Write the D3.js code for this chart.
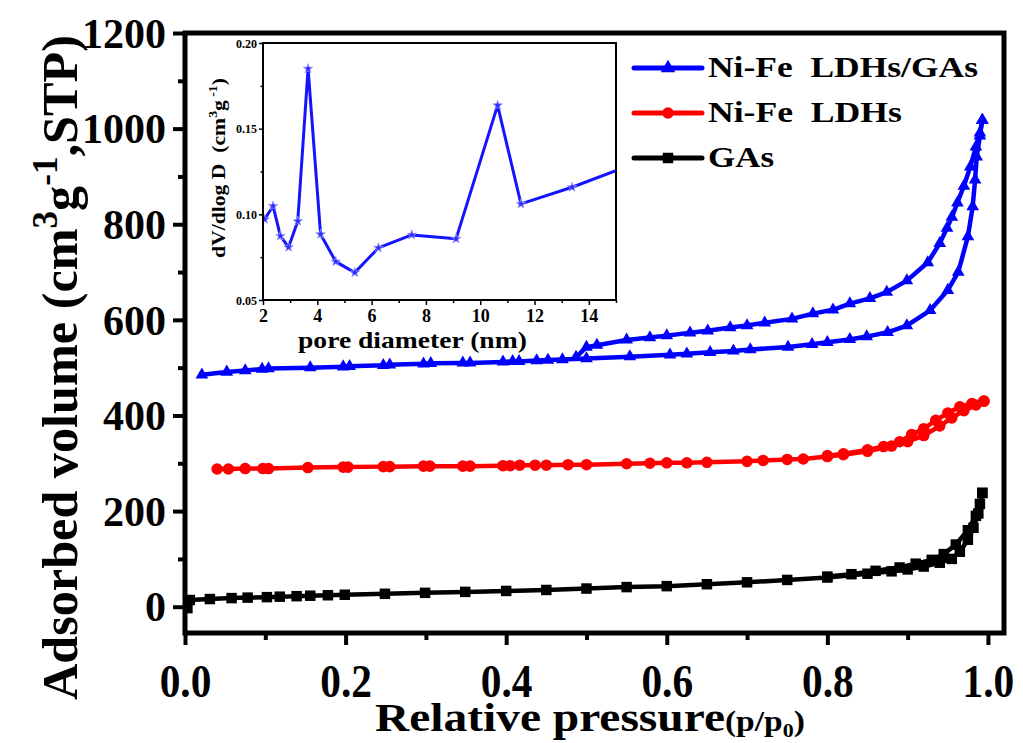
<!DOCTYPE html>
<html>
<head>
<meta charset="utf-8">
<script src="https://cdnjs.cloudflare.com/ajax/libs/d3/7.8.5/d3.min.js"></script>
<style>
  body { margin: 0; background: #fff; }
  svg text { font-family: "Liberation Serif", "Times New Roman", serif; font-weight: bold; fill: #000; white-space: pre; }
</style>
</head>
<body>
<div id="chart"></div>
<script>
// N2 isotherms, [p/p0, volume]
var ldhGasAds = [[0.021,485],[0.052,491],[0.075,494],[0.096,497],[0.104,498],[0.156,500],[0.197,502],[0.205,503],
  [0.247,505],[0.255,506],[0.297,508],[0.306,509],[0.346,510],[0.355,510],[0.396,512],[0.408,513],[0.416,513],
  [0.438,515],[0.452,516],[0.470,517],[0.500,519],[0.554,523],[0.604,527],[0.625,529],[0.654,532],[0.683,535],
  [0.704,538],[0.751,543],[0.781,549],[0.800,553],[0.828,559],[0.849,565],[0.875,574],[0.899,588],[0.928,620],
  [0.950,662],[0.963,700],[0.975,774],[0.981,837],[0.984,893],[0.986,941],[0.990,985],[0.993,1018]];
var ldhGasDes = [[0.993,1018],[0.990,991],[0.985,962],[0.978,920],[0.970,880],[0.962,845],[0.955,815],[0.949,792],
  [0.940,760],[0.925,720],[0.899,682],[0.874,658],[0.853,645],[0.828,634],[0.807,621],[0.782,613],[0.756,602],
  [0.722,594],[0.700,588],[0.679,584],[0.651,577],[0.629,573],[0.600,567],[0.579,563],[0.550,558],[0.513,547],
  [0.500,543],[0.487,522]];

var ldhAds = [[0.040,288],[0.054,288],[0.075,289],[0.097,289],[0.104,289],[0.153,291],[0.197,292],[0.203,292],
  [0.247,293],[0.255,293],[0.297,294],[0.305,294],[0.346,294],[0.355,294],[0.396,295],[0.405,295],[0.417,296],
  [0.436,296],[0.450,296],[0.477,297],[0.500,297],[0.550,299],[0.579,300],[0.600,301],[0.625,301],[0.650,302],
  [0.700,304],[0.720,306],[0.750,308],[0.770,309],[0.800,314],[0.820,318],[0.850,325],[0.880,336],[0.900,345],
  [0.920,358],[0.940,378],[0.955,395],[0.970,410],[0.985,422],[0.995,430]];
var ldhDes = [[0.995,430],[0.980,425],[0.965,418],[0.950,405],[0.935,390],[0.920,372],[0.905,360],[0.890,345],
  [0.870,335],[0.850,328],[0.820,320],[0.800,316]];

var gasAds = [[0.003,-3],[0.006,14],[0.031,16],[0.058,18],[0.078,19],[0.102,20],[0.118,21],[0.139,22],[0.156,23],
  [0.178,24],[0.199,25],[0.249,27],[0.299,29],[0.349,31],[0.400,33],[0.450,35],[0.500,38],[0.550,41],[0.600,43],
  [0.650,47],[0.700,51],[0.750,56],[0.800,61],[0.850,69],[0.880,74],[0.900,78],[0.920,84],[0.940,92],[0.955,100],
  [0.965,115],[0.975,140],[0.982,165],[0.988,195],[0.993,238]];
var gasDes = [[0.993,238],[0.990,215],[0.985,190],[0.975,160],[0.960,130],[0.945,110],[0.930,98],[0.910,90],
  [0.890,82],[0.860,75],[0.830,68],[0.800,63]];

// pore size distribution (inset)
var poreDiameter = [2.06,2.37,2.64,2.94,3.28,3.66,4.12,4.68,5.38,6.25,7.48,9.11,10.64,11.5,13.38,16.4];
var poreVolume = [0.0971,0.1049,0.0874,0.0808,0.0960,0.1850,0.0884,0.0724,0.0660,0.0804,0.0880,0.0857,0.1636,0.1061,0.1158,0.134];

var xTicks = [0, 0.2, 0.4, 0.6, 0.8, 1.0];
var xMinor = [0.1, 0.3, 0.5, 0.7, 0.9];
var yTicks = [0, 200, 400, 600, 800, 1000, 1200];
var yMinor = [100, 300, 500, 700, 900, 1100];
var insetXTicks = [2, 4, 6, 8, 10, 12, 14];
var insetXMinor = [3, 5, 7, 9, 11, 13, 15];
var insetYTicks = [0.05, 0.10, 0.15, 0.20];
var insetYMinor = [0.075, 0.125, 0.175];

var legendNames = ["Ni-Fe  LDHs/GAs", "Ni-Fe  LDHs", "GAs"];

var svg = d3.select("#chart").append("svg")
  .attr("width", 1023).attr("height", 743);
svg.append("rect").attr("width", 1023).attr("height", 743).attr("fill", "#fff");

var plotL = 185, plotR = 1004, plotT = 33, plotB = 633;
var x = d3.scaleLinear().domain([0, 1.02]).range([plotL, plotR]);
var y = d3.scaleLinear().domain([-55, 1200]).range([plotB, plotT]);

function fit(sel, w) {
  var bw = sel.node().getBBox().width;
  sel.attr("transform", "scale(" + (w / bw) + ",1)");
}

// axes
function styleAxis(g, sw) {
  g.select(".domain").remove();
  g.selectAll(".tick line").attr("stroke", "#000").attr("stroke-width", sw);
}
var xg = svg.append("g").attr("transform", `translate(0,${plotB})`)
  .call(d3.axisBottom(x).tickValues(xTicks).tickSize(12).tickFormat(d3.format(".1f")));
styleAxis(xg, 4);
xg.selectAll("text").attr("y", 64).attr("dy", 0).style("font-size", "47px").attr("transform", "scale(0.88,1)");
var xm = svg.append("g").attr("transform", `translate(0,${plotB})`)
  .call(d3.axisBottom(x).tickValues(xMinor).tickSize(7).tickFormat(""));
styleAxis(xm, 4);

var yg = svg.append("g").attr("transform", `translate(${plotL},0)`)
  .call(d3.axisLeft(y).tickValues(yTicks).tickSize(12).tickFormat(d3.format("d")));
styleAxis(yg, 4);
yg.selectAll("text").attr("x", -19).attr("dy", "0.34em").style("font-size", "42px");
var ym = svg.append("g").attr("transform", `translate(${plotL},0)`)
  .call(d3.axisLeft(y).tickValues(yMinor).tickSize(7).tickFormat(""));
styleAxis(ym, 4);

svg.append("clipPath").attr("id", "mainClip").append("rect")
  .attr("x", plotL).attr("y", plotT).attr("width", plotR - plotL).attr("height", plotB - plotT);

var line = d3.line().x(d => x(d[0])).y(d => y(d[1]));
var plot = svg.append("g").attr("clip-path", "url(#mainClip)");

var series = [
  { data: [gasAds, gasDes], color: "#000", sym: d3.symbolSquare, size: 110, width: 4.5 },
  { data: [ldhAds, ldhDes], color: "#ff0000", sym: d3.symbolCircle, size: 105, width: 4.5 },
  { data: [ldhGasAds, ldhGasDes], color: "#0000ff", sym: d3.symbolTriangle, size: 70, width: 4.5 }
];
series.forEach(function(s) {
  s.data.forEach(function(branch) {
    plot.append("path").datum(branch).attr("d", line)
      .attr("fill", "none").attr("stroke", s.color).attr("stroke-width", s.width)
      .attr("stroke-linejoin", "round");
    plot.selectAll(null).data(branch).enter().append("path")
      .attr("d", d3.symbol().type(s.sym).size(s.size))
      .attr("transform", d => `translate(${x(d[0])},${y(d[1])})`)
      .attr("fill", s.color);
  });
});

svg.append("rect").attr("x", plotL).attr("y", plotT).attr("width", plotR - plotL).attr("height", plotB - plotT)
  .attr("fill", "none").attr("stroke", "#000").attr("stroke-width", 5);

// axis titles
var xt = svg.append("g").attr("transform", "translate(375,731)");
var xtText = xt.append("text").style("font-size", "41px");
xtText.append("tspan").text("Relative pressure");
xtText.append("tspan").style("font-size", "29px").text("(p/p");
xtText.append("tspan").style("font-size", "19px").attr("dy", 6).text("0");
xtText.append("tspan").style("font-size", "29px").attr("dy", -6).text(")");
fit(xtText, 430);

var yt = svg.append("g").attr("transform", "translate(77,700) rotate(-90)");
var ytText = yt.append("text").style("font-size", "50px");
ytText.append("tspan").text("Adsorbed volume (cm");
ytText.append("tspan").style("font-size", "35px").attr("dy", -20).text("3");
ytText.append("tspan").attr("dy", 20).text("g");
ytText.append("tspan").style("font-size", "35px").attr("dy", -20).text("-1");
ytText.append("tspan").attr("dy", 20).text(",STP)");
fit(ytText, 665);

// legend
var legendColors = ["#0000ff", "#ff0000", "#000"];
var legendSyms = [d3.symbolTriangle, d3.symbolCircle, d3.symbolSquare];
var legendSizes = [90, 105, 110];
var legendWidths = [270, 194, 66];
legendNames.forEach(function(name, i) {
  var ly = 68 + i * 45;
  svg.append("line").attr("x1", 634).attr("x2", 702).attr("y1", ly).attr("y2", ly)
    .attr("stroke", legendColors[i]).attr("stroke-width", 5).attr("stroke-linecap", "round");
  svg.append("path").attr("d", d3.symbol().type(legendSyms[i]).size(legendSizes[i]))
    .attr("transform", `translate(668,${ly})`).attr("fill", legendColors[i]);
  var lt = svg.append("g").attr("transform", `translate(708,${ly + 9})`)
    .append("text").style("font-size", "30px").text(name);
  fit(lt, legendWidths[i]);
});

// inset
var iLeft = 263, iRight = 616, iTop = 43, iBottom = 300;
var ix = d3.scaleLinear().domain([2, 15]).range([iLeft, iRight]);
var iy = d3.scaleLinear().domain([0.05, 0.20]).range([iBottom, iTop]);

svg.append("rect").attr("x", iLeft).attr("y", iTop).attr("width", iRight - iLeft).attr("height", iBottom - iTop)
  .attr("fill", "#fff");

var ixg = svg.append("g").attr("transform", `translate(0,${iBottom})`)
  .call(d3.axisBottom(ix).tickValues(insetXTicks).tickSize(5));
styleAxis(ixg, 1.5);
ixg.selectAll("text").attr("y", 22).attr("dy", 0).style("font-size", "18px");
var ixm = svg.append("g").attr("transform", `translate(0,${iBottom})`)
  .call(d3.axisBottom(ix).tickValues(insetXMinor).tickSize(3).tickFormat(""));
styleAxis(ixm, 1.5);

var iyg = svg.append("g").attr("transform", `translate(${iLeft},0)`)
  .call(d3.axisLeft(iy).tickValues(insetYTicks).tickSize(4).tickFormat(d3.format(".2f")));
styleAxis(iyg, 1.5);
iyg.selectAll("text").attr("x", -6).attr("dy", "0.34em").style("font-size", "12px");
var iym = svg.append("g").attr("transform", `translate(${iLeft},0)`)
  .call(d3.axisLeft(iy).tickValues(insetYMinor).tickSize(2.5).tickFormat(""));
styleAxis(iym, 1.5);

svg.append("clipPath").attr("id", "insetClip").append("rect")
  .attr("x", iLeft).attr("y", iTop).attr("width", iRight - iLeft).attr("height", iBottom - iTop);
var poreData = poreDiameter.map((d, i) => [d, poreVolume[i]]);
var ig = svg.append("g").attr("clip-path", "url(#insetClip)");
ig.append("path").datum(poreData)
  .attr("d", d3.line().x(d => ix(d[0])).y(d => iy(d[1])))
  .attr("fill", "none").attr("stroke", "#1414ff").attr("stroke-width", 3).attr("stroke-linejoin", "round");
ig.selectAll(null).data(poreData).enter().append("path")
  .attr("d", d3.symbol().type(d3.symbolStar).size(28))
  .attr("transform", d => `translate(${ix(d[0])},${iy(d[1])})`)
  .attr("fill", "#2a2aff").attr("stroke", "#9a9aff").attr("stroke-width", 0.8);

svg.append("rect").attr("x", iLeft).attr("y", iTop).attr("width", iRight - iLeft).attr("height", iBottom - iTop)
  .attr("fill", "none").attr("stroke", "#000").attr("stroke-width", 2);

var ixt = svg.append("g").attr("transform", "translate(298,348)")
  .append("text").style("font-size", "23px").text("pore diameter (nm)");
fit(ixt, 229);

var iyt = svg.append("g").attr("transform", "translate(225,258) rotate(-90)")
  .append("text").style("font-size", "19px");
iyt.append("tspan").text("dV/dlog D  (cm");
iyt.append("tspan").style("font-size", "12px").attr("dy", -8).text("3");
iyt.append("tspan").attr("dy", 8).text("g");
iyt.append("tspan").style("font-size", "12px").attr("dy", -8).text(" -1");
iyt.append("tspan").attr("dy", 8).text(")");
fit(iyt, 180);
</script>
</body>
</html>
